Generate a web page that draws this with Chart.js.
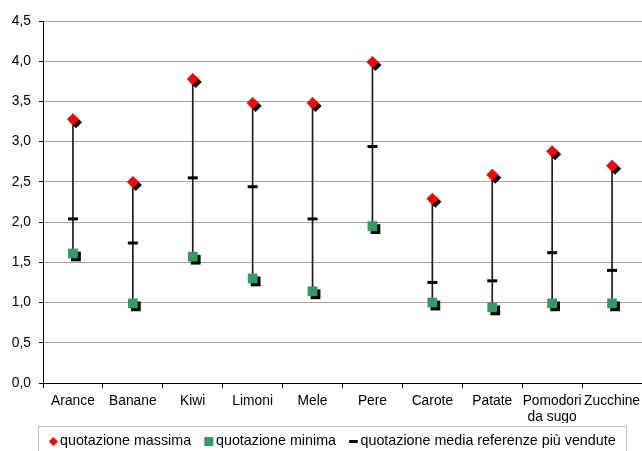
<!DOCTYPE html>
<html>
<head>
<meta charset="utf-8">
<script src="https://cdn.jsdelivr.net/npm/chart.js@4/dist/chart.umd.min.js"></script>
<style>
  html, body { margin: 0; padding: 0; background: #ffffff; }
  #wrap { width: 642px; height: 451px; position: relative; }
</style>
</head>
<body>
<div id="wrap"><canvas id="c" width="642" height="451"></canvas></div>
<script>
const categories = ['Arance', 'Banane', 'Kiwi', 'Limoni', 'Mele', 'Pere', 'Carote', 'Patate', ['Pomodori', 'da sugo'], 'Zucchine'];
const maxValues  = [3.28, 2.50, 3.78, 3.48, 3.48, 3.99, 2.29, 2.59, 2.88, 2.70];
const minValues  = [1.61, 0.99, 1.57, 1.30, 1.14, 1.95, 1.00, 0.94, 0.99, 0.99];
const meanValues = [2.04, 1.74, 2.55, 2.44, 2.04, 2.94, 1.25, 1.27, 1.62, 1.40];
const yTickLabels = ['0,0', '0,5', '1,0', '1,5', '2,0', '2,5', '3,0', '3,5', '4,0', '4,5'];
const seriesLabels = ['quotazione massima', 'quotazione minima', 'quotazione media referenze più vendute'];

const FONT = '"Liberation Sans", Arial, sans-serif';
const RED = '#ff0000';
const GREEN = '#339966';

const rangeData = minValues.map((v, i) => [v, maxValues[i]]);

const shadowPlugin = {
  id: 'markerShadow',
  beforeDatasetDraw(chart, args) {
    const ds = chart.data.datasets[args.index];
    if (ds.shadowed) {
      const ctx = chart.ctx;
      ctx.save();
      ctx.shadowColor = '#000000';
      ctx.shadowOffsetX = 3;
      ctx.shadowOffsetY = 3;
      ctx.shadowBlur = 0;
    }
  },
  afterDatasetDraw(chart, args) {
    const ds = chart.data.datasets[args.index];
    if (ds.shadowed) chart.ctx.restore();
  }
};

function drawMarker(ctx, style, x, y, r, color) {
  ctx.save();
  ctx.fillStyle = color;
  ctx.strokeStyle = color;
  ctx.beginPath();
  if (style === 'rectRot') {
    ctx.moveTo(x, y - r); ctx.lineTo(x + r, y); ctx.lineTo(x, y + r); ctx.lineTo(x - r, y); ctx.closePath();
    ctx.fill();
  } else if (style === 'rect') {
    ctx.rect(x - r, y - r, 2 * r, 2 * r);
    ctx.fill();
  } else {
    ctx.lineWidth = 3;
    ctx.moveTo(x - r, y); ctx.lineTo(x + r, y);
    ctx.stroke();
  }
  ctx.restore();
}

const legendPlugin = {
  id: 'boxLegend',
  afterDraw(chart) {
    const ctx = chart.ctx;
    ctx.save();
    ctx.strokeStyle = '#bfbfbf';
    ctx.lineWidth = 1;
    ctx.strokeRect(38.5, 426.5, 588, 40);
    const items = [
      { style: 'rectRot', r: 4.5, color: RED, mx: 53.3, tx: 60, label: seriesLabels[0] },
      { style: 'rect', r: 4.5, color: GREEN, mx: 208.8, tx: 216, label: seriesLabels[1] },
      { style: 'line', r: 4.3, color: '#000000', mx: 353.5, tx: 360.5, label: seriesLabels[2] }
    ];
    const y = 441.5;
    ctx.font = '14.3px ' + FONT;
    ctx.textBaseline = 'middle';
    ctx.textAlign = 'left';
    items.forEach(it => {
      drawMarker(ctx, it.style, it.mx, y, it.r, it.color);
      ctx.fillStyle = '#000000';
      ctx.fillText(it.label, it.tx, y);
    });
    ctx.restore();
  }
};

new Chart(document.getElementById('c'), {
  type: 'bar',
  data: {
    labels: categories,
    datasets: [
      {
        type: 'line',
        label: seriesLabels[0],
        data: maxValues,
        showLine: false,
        pointStyle: 'rectRot',
        pointRadius: 6,
        pointBackgroundColor: RED,
        pointBorderColor: RED,
        pointBorderWidth: 0,
        shadowed: true,
        order: 1
      },
      {
        type: 'line',
        label: seriesLabels[1],
        data: minValues,
        showLine: false,
        pointStyle: 'rect',
        pointRadius: 6.9,
        pointBackgroundColor: GREEN,
        pointBorderColor: GREEN,
        pointBorderWidth: 0,
        shadowed: true,
        order: 2
      },
      {
        type: 'line',
        label: seriesLabels[2],
        data: meanValues,
        showLine: false,
        pointStyle: 'line',
        pointRadius: 5,
        pointBorderWidth: 3,
        pointBorderColor: '#000000',
        pointBackgroundColor: '#000000',
        order: 3
      },
      {
        type: 'bar',
        label: 'range',
        data: rangeData,
        backgroundColor: '#1a1a1a',
        borderWidth: 0,
        barThickness: 1,
        order: 4
      }
    ]
  },
  options: {
    responsive: false,
    animation: false,
    devicePixelRatio: 1,
    layout: { autoPadding: false, padding: { top: 21, right: 0, bottom: 28, left: 0 } },
    plugins: {
      legend: { display: false },
      tooltip: { enabled: false }
    },
    scales: {
      x: {
        offset: true,
        grid: {
          offset: true,
          drawOnChartArea: false,
          drawTicks: true,
          tickLength: 5,
          tickColor: '#000000',
          lineWidth: 1
        },
        border: { color: '#000000', width: 1 },
        ticks: {
          color: '#000000',
          font: { family: FONT, size: 13.8, lineHeight: 1.15 },
          padding: 5,
          maxRotation: 0,
          autoSkip: false
        },
        afterFit(scale) {
          scale.height = 40;
          scale.paddingLeft = 0;
          scale.paddingRight = 0;
        }
      },
      y: {
        min: 0,
        max: 4.5,
        ticks: {
          stepSize: 0.5,
          color: '#000000',
          font: { family: FONT, size: 13.8 },
          padding: 8,
          callback: (v, i) => yTickLabels[i]
        },
        grid: {
          color: (c) => c.tick && c.tick.value === 0 ? '#000000' : '#a6a6a6',
          lineWidth: 1,
          tickLength: 4,
          tickColor: '#000000'
        },
        border: { color: '#000000', width: 1 },
        afterFit(scale) { scale.width = 43; }
      }
    }
  },
  plugins: [shadowPlugin, legendPlugin]
});
</script>
</body>
</html>
